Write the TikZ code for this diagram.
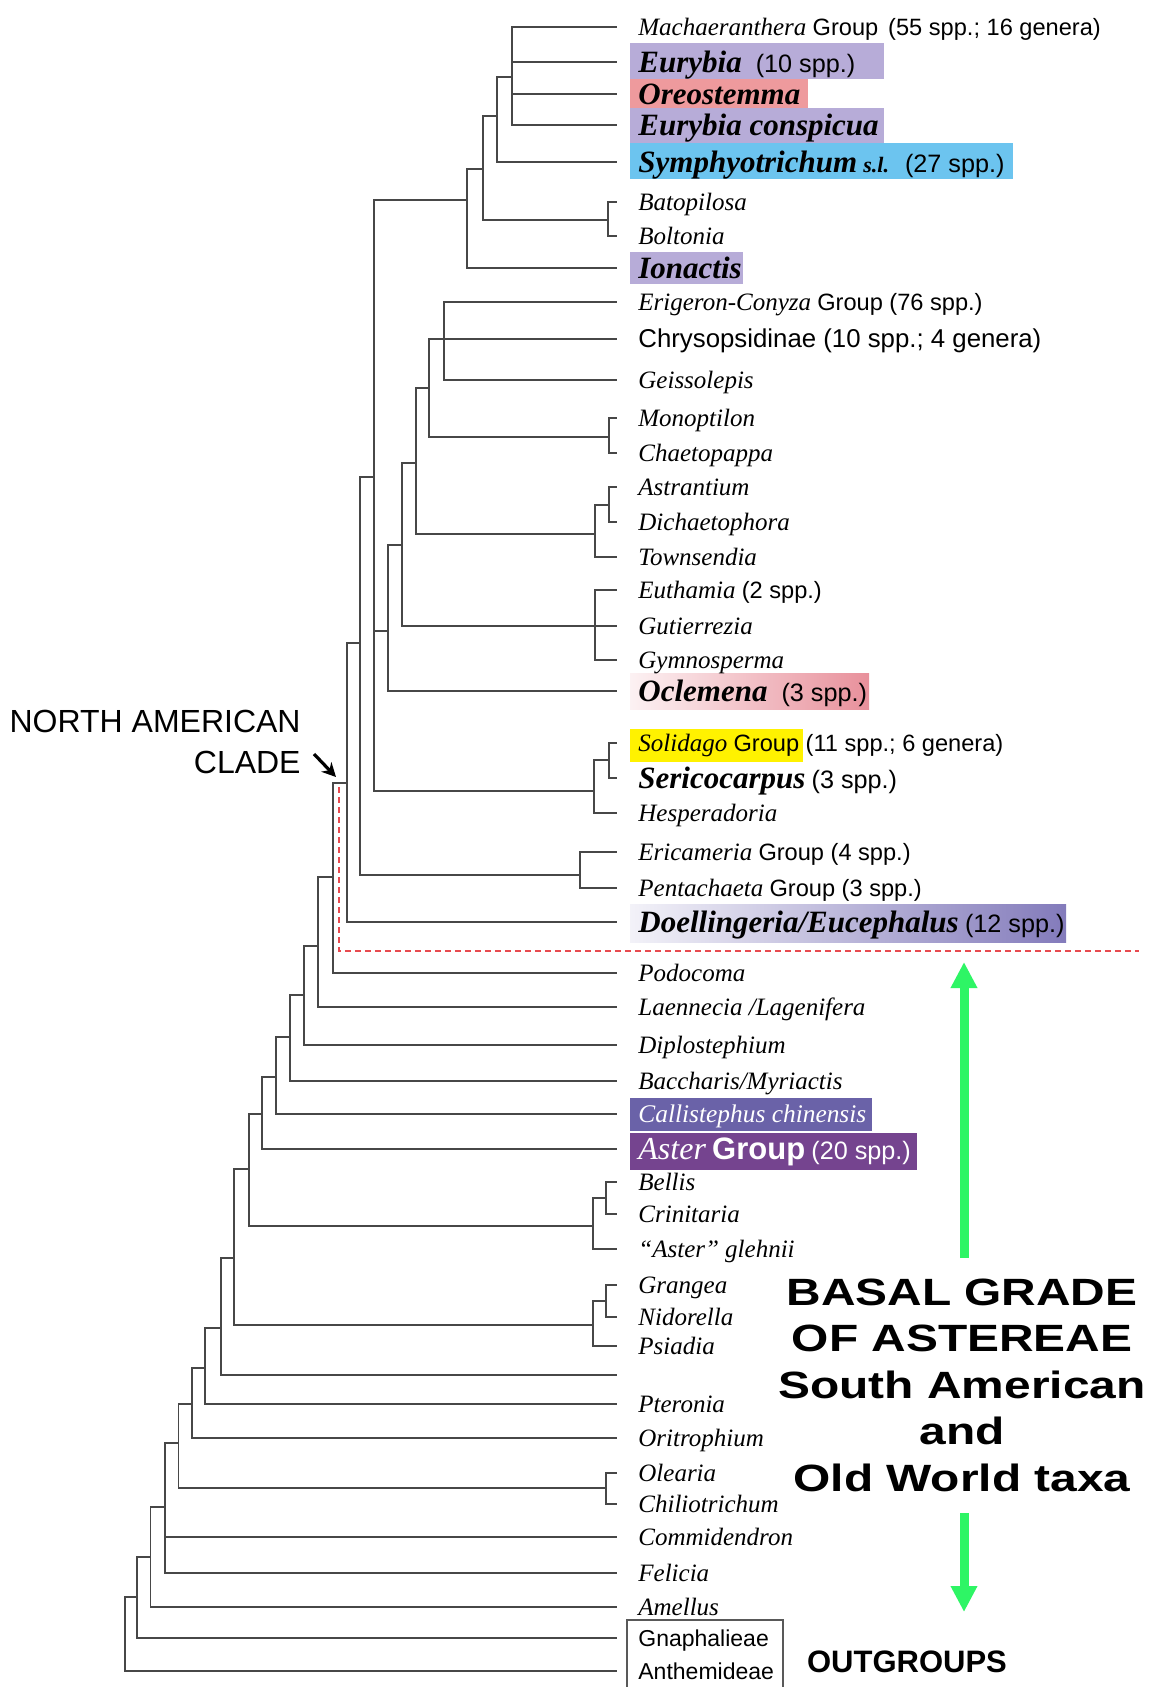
\documentclass[tikz,border=0pt]{standalone}
\usepackage{fontspec}
\setmainfont{Liberation Serif}
\setsansfont{Liberation Sans}
\newfontfamily\largasans[FakeStretch=1.26]{Liberation Sans}
\usetikzlibrary{arrows.meta}

\definecolor{lavanda}{HTML}{B7ACD8}
\definecolor{salmao}{HTML}{EE9A9D}
\definecolor{celeste}{HTML}{6CC4EF}
\definecolor{amarelo}{HTML}{FFF200}
\definecolor{roxoc}{HTML}{6A62A8}
\definecolor{roxoa}{HTML}{75448F}
\definecolor{rosa}{HTML}{E8909B}
\definecolor{lilas}{HTML}{837BBB}
\definecolor{verde}{HTML}{2EF565}
\definecolor{verm}{HTML}{E84A4F}

\newcommand\sanstxt[1]{{\sffamily\upshape\fontsize{11.8}{13}\selectfont #1}}
\newcommand\sansgr[1]{{\sffamily\upshape\fontsize{12.6}{14}\selectfont #1}}
\newcommand\boldtax[1]{{\fontsize{15.5}{17}\selectfont\bfseries\itshape #1}}

\tikzset{
  ramo/.style = {draw=black!72, line width=0.75pt},
  rot/.style = {anchor=west, inner xsep=10.5pt, inner ysep=0pt,
    text height=11pt, text depth=3pt,
    font=\fontsize{12.5}{14}\selectfont\itshape},
  rotb/.style = {rot, text height=13pt},
  tracej/.style = {draw=verm, line width=0.6pt, dash pattern=on 3pt off 2pt},
  setav/.style = {draw=verde, line width=4.5pt,
    -{Triangle[length=13pt, width=12.5pt]}},
  setap/.style = {draw=black, line width=1.6pt,
    -{Stealth[length=7pt, width=7pt]}},
  titulo/.style = {font=\sffamily\fontsize{16}{20.5}\selectfont,
    align=right, inner sep=0pt},
  basal/.style = {font=\largasans\bfseries\fontsize{19}{23.25}\selectfont,
    align=center, inner sep=0pt},
  outg/.style = {font=\sffamily\bfseries\fontsize{15.5}{17}\selectfont,
    inner sep=0pt}
}

\begin{document}
\begin{tikzpicture}[x=0.5pt, y=-0.5pt]
  \fill[white] (0,0) rectangle (1156,1687);
  \useasboundingbox (0,0) rectangle (1156,1687);

  % caixas coloridas
  \fill[lavanda] (630,43) rectangle (884,79);
  \fill[salmao] (630,79) rectangle (808,108);
  \fill[lavanda] (630,108) rectangle (884,143);
  \fill[celeste] (630,143) rectangle (1013,179);
  \fill[lavanda] (630,252) rectangle (743,284);
  \shade[left color=rosa!12, right color=rosa] (630,673) rectangle (869,709);
  \fill[amarelo] (630,729) rectangle (803,762);
  \shade[left color=lilas!10, right color=lilas] (630,904) rectangle (1066,942);
  \fill[roxoc] (630,1098) rectangle (872,1131);
  \fill[roxoa] (630,1133) rectangle (917,1170);
  \draw[draw=black!65, line width=0.6pt] (627,1620) rectangle (783,1700);

  % terminais
  \node[rot] (mach) at (617,27) {Machaeranthera \sanstxt{Group\hspace{5pt}(55 spp.; 16 genera)}};
  \node[rotb] (eury) at (617,62) {\boldtax{Eurybia}\hspace{7pt}\sansgr{(10 spp.)}};
  \node[rotb] (oreo) at (617,94) {\boldtax{Oreostemma}};
  \node[rotb] (euco) at (617,125) {\boldtax{Eurybia conspicua}};
  \node[rotb] (symp) at (617,162) {\boldtax{Symphyotrichum} {\fontsize{11}{12}\selectfont\bfseries s.l.}\hspace{8pt}\sansgr{(27 spp.)}};
  \node[rot] (bato) at (617,202) {Batopilosa};
  \node[rot] (bolt) at (617,236) {Boltonia};
  \node[rotb] (iona) at (617,268) {\boldtax{Ionactis}};
  \node[rot] (erig) at (617,302) {Erigeron-Conyza \sanstxt{Group (76 spp.)}};
  \node[rot] (chry) at (617,339) {{\sffamily\upshape\fontsize{12.9}{14}\selectfont Chrysopsidinae (10 spp.; 4 genera)}};
  \node[rot] (geis) at (617,380) {Geissolepis};
  \node[rot] (mono) at (617,418) {Monoptilon};
  \node[rot] (chae) at (617,453) {Chaetopappa};
  \node[rot] (astr) at (617,487) {Astrantium};
  \node[rot] (dich) at (617,522) {Dichaetophora};
  \node[rot] (town) at (617,557) {Townsendia};
  \node[rot] (euth) at (617,590) {Euthamia \sanstxt{(2 spp.)}};
  \node[rot] (guti) at (617,626) {Gutierrezia};
  \node[rot] (gymn) at (617,660) {Gymnosperma};
  \node[rotb] (ocle) at (617,691) {\boldtax{Oclemena}\hspace{7pt}\sansgr{(3 spp.)}};
  \node[rot] (soli) at (617,743) {Solidago \sanstxt{Group (11 spp.; 6 genera)}};
  \node[rotb] (seri) at (617,778) {\boldtax{Sericocarpus} \sansgr{(3 spp.)}};
  \node[rot] (hesp) at (617,813) {Hesperadoria};
  \node[rot] (eric) at (617,852) {Ericameria \sanstxt{Group (4 spp.)}};
  \node[rot] (pent) at (617,888) {Pentachaeta \sanstxt{Group (3 spp.)}};
  \node[rotb] (doel) at (617,922) {\boldtax{Doellingeria/Eucephalus} \sansgr{(12 spp.)}};
  \node[rot] (podo) at (617,973) {Podocoma};
  \node[rot] (laen) at (617,1007) {Laennecia /Lagenifera};
  \node[rot] (dipl) at (617,1045) {Diplostephium};
  \node[rot] (bacc) at (617,1081) {Baccharis/Myriactis};
  \node[rot, text=white] (call) at (617,1114) {{\fontsize{12.7}{14}\selectfont Callistephus chinensis}};
  \node[rotb, text=white] (aste) at (617,1149) {{\fontsize{16}{17}\selectfont Aster} {\sffamily\upshape\bfseries\fontsize{15.5}{16}\selectfont Group} \sansgr{(20 spp.)}};
  \node[rot] (bell) at (617,1182) {Bellis};
  \node[rot] (crin) at (617,1214) {Crinitaria};
  \node[rot] (gleh) at (617,1249) {``Aster'' glehnii};
  \node[rot] (gran) at (617,1285) {Grangea};
  \node[rot] (nido) at (617,1317) {Nidorella};
  \node[rot] (psia) at (617,1346) {Psiadia};
  \coordinate (vazio) at (617,1375);
  \node[rot] (pter) at (617,1404) {Pteronia};
  \node[rot] (orit) at (617,1438) {Oritrophium};
  \node[rot] (olea) at (617,1473) {Olearia};
  \node[rot] (chil) at (617,1504) {Chiliotrichum};
  \node[rot] (comm) at (617,1537) {Commidendron};
  \node[rot] (feli) at (617,1573) {Felicia};
  \node[rot] (amel) at (617,1607) {Amellus};
  \node[rot] (gnap) at (617,1638) {{\sffamily\upshape\fontsize{11.5}{13}\selectfont Gnaphalieae}};
  \node[rot] (anth) at (617,1671) {{\sffamily\upshape\fontsize{11.5}{13}\selectfont Anthemideae}};

  % nos internos
  \coordinate (nA) at (512,77);
  \coordinate (nB) at (497,116);
  \coordinate (nBB) at (608,220);
  \coordinate (nC) at (483,169);
  \coordinate (nD) at (467,200);
  \coordinate (nEC) at (444,339);
  \coordinate (nMC) at (609,437);
  \coordinate (nF) at (429,388);
  \coordinate (nAD) at (609,505);
  \coordinate (nTo) at (595,534);
  \coordinate (nG) at (416,463);
  \coordinate (nEu) at (595,626);
  \coordinate (nH) at (402,545);
  \coordinate (nI) at (388,631);
  \coordinate (nSS) at (609,760);
  \coordinate (nSo) at (594,791);
  \coordinate (nJ) at (374,477);
  \coordinate (nEP) at (580,875);
  \coordinate (nK) at (360,643);
  \coordinate (nNA) at (347,783);
  \coordinate (nL) at (333,877);
  \coordinate (nM) at (318,946);
  \coordinate (nN) at (304,995);
  \coordinate (nO) at (290,1037);
  \coordinate (nP) at (276,1077);
  \coordinate (nQ) at (262,1114);
  \coordinate (nBC) at (606,1198);
  \coordinate (nBe) at (593,1226);
  \coordinate (nR) at (249,1169);
  \coordinate (nGN) at (606,1301);
  \coordinate (nGr) at (593,1325);
  \coordinate (nS) at (234,1258);
  \coordinate (nT) at (221,1328);
  \coordinate (nU) at (205,1368);
  \coordinate (nV) at (192,1404);
  \coordinate (nOC) at (606,1488);
  \coordinate (nW) at (178.5,1443);
  \coordinate (nX) at (165,1507);
  \coordinate (nY) at (150.5,1557);
  \coordinate (nZ) at (137,1597);
  \coordinate (nR0) at (125,1634);

  % ramos
  \draw[ramo] (nA) |- (mach.west) (nA) |- (eury.west) (nA) |- (oreo.west) (nA) |- (euco.west);
  \draw[ramo] (nB) |- (nA) (nB) |- (symp.west);
  \draw[ramo] (nBB) |- (bato.west) (nBB) |- (bolt.west);
  \draw[ramo] (nC) |- (nB) (nC) |- (nBB);
  \draw[ramo] (nD) |- (nC) (nD) |- (iona.west);
  \draw[ramo] (nEC) |- (erig.west) (nEC) |- (geis.west);
  \draw[ramo] (nMC) |- (mono.west) (nMC) |- (chae.west);
  \draw[ramo] (nF) |- (chry.west) (nF) |- (nEC) (nF) |- (nMC);
  \draw[ramo] (nAD) |- (astr.west) (nAD) |- (dich.west);
  \draw[ramo] (nTo) |- (nAD) (nTo) |- (town.west);
  \draw[ramo] (nG) |- (nF) (nG) |- (nTo);
  \draw[ramo] (nEu) |- (euth.west) (nEu) |- (guti.west) (nEu) |- (gymn.west);
  \draw[ramo] (nH) |- (nG) (nH) |- (nEu);
  \draw[ramo] (nI) |- (nH) (nI) |- (ocle.west);
  \draw[ramo] (nSS) |- (soli.west) (nSS) |- (seri.west);
  \draw[ramo] (nSo) |- (nSS) (nSo) |- (hesp.west);
  \draw[ramo] (nJ) |- (nD) (nJ) |- (nI) (nJ) |- (nSo);
  \draw[ramo] (nEP) |- (eric.west) (nEP) |- (pent.west);
  \draw[ramo] (nK) |- (nJ) (nK) |- (nEP);
  \draw[ramo] (nNA) |- (nK) (nNA) |- (doel.west);
  \draw[ramo] (nL) |- (nNA) (nL) |- (podo.west);
  \draw[ramo] (nM) |- (nL) (nM) |- (laen.west);
  \draw[ramo] (nN) |- (nM) (nN) |- (dipl.west);
  \draw[ramo] (nO) |- (nN) (nO) |- (bacc.west);
  \draw[ramo] (nP) |- (nO) (nP) |- (call.west);
  \draw[ramo] (nQ) |- (nP) (nQ) |- (aste.west);
  \draw[ramo] (nBC) |- (bell.west) (nBC) |- (crin.west);
  \draw[ramo] (nBe) |- (nBC) (nBe) |- (gleh.west);
  \draw[ramo] (nR) |- (nQ) (nR) |- (nBe);
  \draw[ramo] (nGN) |- (gran.west) (nGN) |- (nido.west);
  \draw[ramo] (nGr) |- (nGN) (nGr) |- (psia.west);
  \draw[ramo] (nS) |- (nR) (nS) |- (nGr);
  \draw[ramo] (nT) |- (nS) (nT) |- (vazio);
  \draw[ramo] (nU) |- (nT) (nU) |- (pter.west);
  \draw[ramo] (nV) |- (nU) (nV) |- (orit.west);
  \draw[ramo] (nOC) |- (olea.west) (nOC) |- (chil.west);
  \draw[ramo] (nW) |- (nV) (nW) |- (nOC);
  \draw[ramo] (nX) |- (nW) (nX) |- (comm.west) (nX) |- (feli.west);
  \draw[ramo] (nY) |- (nX) (nY) |- (amel.west);
  \draw[ramo] (nZ) |- (nY) (nZ) |- (gnap.west);
  \draw[ramo] (nR0) |- (nZ) (nR0) |- (anth.west);

  % clado norte-americano
  \coordinate (tr1) at (339,787);
  \coordinate (tr2) at (1139,951);
  \draw[tracej] (tr1) |- (tr2);
  \node[titulo, anchor=east] (nacl) at (301,741.5) {NORTH AMERICAN\\CLADE};
  \coordinate (naA) at (314,754);
  \coordinate (naB) at (336,777);
  \draw[setap] (naA) -- (naB);

  % grado basal
  \node[basal] (grado) at (962,1385) {BASAL GRADE\\OF ASTEREAE\\South American\\and\\Old World taxa};
  \coordinate (sobeA) at (964,1258);
  \coordinate (sobeB) at (964,962);
  \coordinate (desceA) at (964,1513);
  \coordinate (desceB) at (964,1612);
  \draw[setav] (sobeA) -- (sobeB);
  \draw[setav] (desceA) -- (desceB);
  \node[outg] (outg) at (907,1662) {OUTGROUPS};
\end{tikzpicture}
\end{document}
